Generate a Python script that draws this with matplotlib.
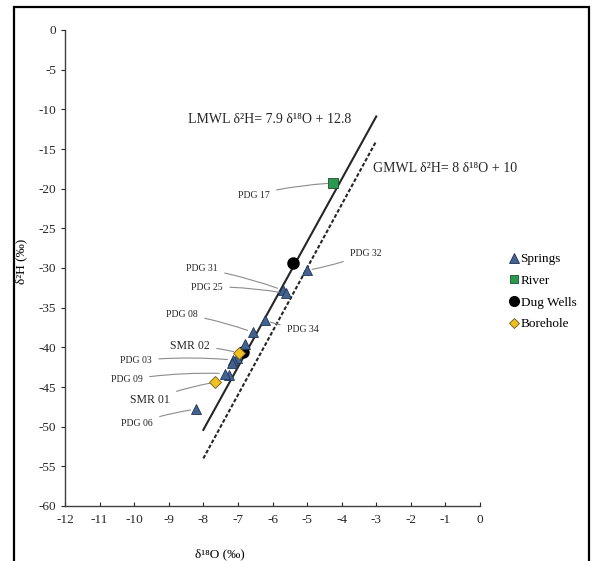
import matplotlib
matplotlib.use("Agg")
import matplotlib.pyplot as plt
from matplotlib.patches import Rectangle
from matplotlib.lines import Line2D

plt.rcParams['font.family'] = ['Liberation Serif', 'DejaVu Serif']
plt.rcParams['axes.unicode_minus'] = False

# isotope data (delta 18O, delta 2H, permil)
springs_x = [-5.01, -5.70, -5.61, -6.22, -6.57, -6.80, -7.03, -7.14, -7.17, -7.26, -7.38, -8.21]
springs_y = [-30.3, -32.8, -33.2, -36.6, -38.1, -39.6, -41.4, -41.6, -42.0, -43.5, -43.3, -47.8]
river_x = [-4.25]
river_y = [-19.3]
wells_x = [-5.41, -6.86]
wells_y = [-29.4, -40.6]
bore_x = [-6.97, -7.66]
bore_y = [-40.7, -44.4]

# meteoric water lines
line_x = [-8, -3]
lmwl_slope, lmwl_icpt = 7.9, 12.8
gmwl_slope, gmwl_icpt = 8.0, 10.0

# sample labels: name, point (x, y), label anchor (x, y), side
labels = [
    ("PDG 17", (-4.25, -19.3), (-6.08, -20.8), "right", 7),
    ("PDG 32", (-5.01, -30.3), (-3.76, -28.2), "left", 7),
    ("PDG 31", (-5.70, -32.8), (-7.58, -30.1), "right", 7),
    ("PDG 25", (-5.61, -33.2), (-7.43, -32.4), "right", 7),
    ("PDG 08", (-6.57, -38.1), (-8.16, -35.8), "right", 7),
    ("PDG 34", (-6.22, -36.6), (-5.58, -37.7), "left", 7),
    ("SMR 02", (-6.97, -40.7), (-7.81, -39.8), "right", 8.5),
    ("PDG 03", (-7.14, -41.6), (-9.49, -41.7), "right", 7),
    ("PDG 09", (-7.38, -43.3), (-9.75, -44.1), "right", 7),
    ("SMR 01", (-7.66, -44.4), (-8.97, -46.7), "right", 8.5),
    ("PDG 06", (-8.21, -47.8), (-9.46, -49.6), "right", 7),
]

fig = plt.figure(figsize=(5.93, 5.61), dpi=100)
ax = fig.add_axes([65/593, 1-506/561, 415/593, 476/561])

lx = line_x
ax.plot(lx, [lmwl_slope*v + lmwl_icpt for v in lx], color='#262626', lw=1.5, zorder=2)
ax.plot(lx, [gmwl_slope*v + gmwl_icpt for v in lx], color='#262626', lw=1.5,
        ls=(0, (1.8, 1.0)), zorder=2)

blue = '#44628f'
ax.plot(springs_x, springs_y, ls='none', marker='^', ms=7, mfc=blue, mec='#1f3557',
        mew=0.6, zorder=4, label='Springs')
ax.plot(river_x, river_y, ls='none', marker='s', ms=6.5, mfc='#2c9a4e', mec='#1e4d2c',
        mew=0.6, zorder=4, label='River')
ax.plot(wells_x, wells_y, ls='none', marker='o', ms=8, mfc='black', mec='black',
        zorder=3, label='Dug Wells')
ax.plot(bore_x, bore_y, ls='none', marker='D', ms=6.5, mfc='#f0c020', mec='#6b5a20',
        mew=0.6, zorder=5, label='Borehole')

for name, pt, txt, side, fs in labels:
    ax.annotate(name, xy=pt, xytext=txt, ha=side, va='center', fontsize=fs,
                color='#262626',
                arrowprops=dict(arrowstyle='-', color='#8c8c8c', lw=0.8,
                                shrinkA=3, shrinkB=4,
                                connectionstyle='arc3,rad=-0.05'))

ax.text(-8.45, -11.3, "LMWL δ²H= 7.9 δ¹⁸O + 12.8", fontsize=10, va='center',
        color='#262626')
ax.text(-3.10, -17.4, "GMWL δ²H= 8 δ¹⁸O + 10", fontsize=10, va='center',
        color='#262626')

ax.set_xlim(-12, 0)
ax.set_ylim(-60, 0)
ax.set_xticks(range(-12, 1))
ax.set_yticks(range(-60, 1, 5))
for s in ['top', 'right']:
    ax.spines[s].set_visible(False)
for s in ['left', 'bottom']:
    ax.spines[s].set_color('#404040')
    ax.spines[s].set_linewidth(1.0)
ax.tick_params(axis='x', direction='in', length=3, labelsize=9.5, colors='#262626', pad=6)
ax.tick_params(axis='y', direction='out', length=3, labelsize=9.5, colors='#262626')

ax.set_xlabel("δ¹⁸O (‰)", fontsize=9.5)
ax.xaxis.set_label_coords((220-65)/415, -0.088)
ax.set_ylabel("δ²H (‰)", fontsize=9.5)
ax.yaxis.set_label_coords((27-65)/415, 0.513)

handles = [
    Line2D([], [], ls='none', marker='^', ms=6.5, mfc=blue, mec='#1f3557', mew=0.6),
    Line2D([], [], ls='none', marker='s', ms=6, mfc='#2c9a4e', mec='#1e4d2c', mew=0.6),
    Line2D([], [], ls='none', marker='o', ms=7, mfc='black', mec='black'),
    Line2D([], [], ls='none', marker='D', ms=5.5, mfc='#f0c020', mec='#6b5a20', mew=0.6),
]
fig.legend(handles, ['Springs', 'River', 'Dug Wells', 'Borehole'],
           loc='upper left', bbox_to_anchor=(510/593, 1-253/561), frameon=False,
           fontsize=9.5, handlelength=0.6, handletextpad=0.2, labelspacing=0.72,
           borderpad=0, borderaxespad=0)

fig.patches.append(Rectangle((14/593, -0.02), (589-14)/593, 1.02-7/561,
                             transform=fig.transFigure, fill=False,
                             edgecolor='black', lw=1.6))

fig.savefig("out.png", dpi=100)
